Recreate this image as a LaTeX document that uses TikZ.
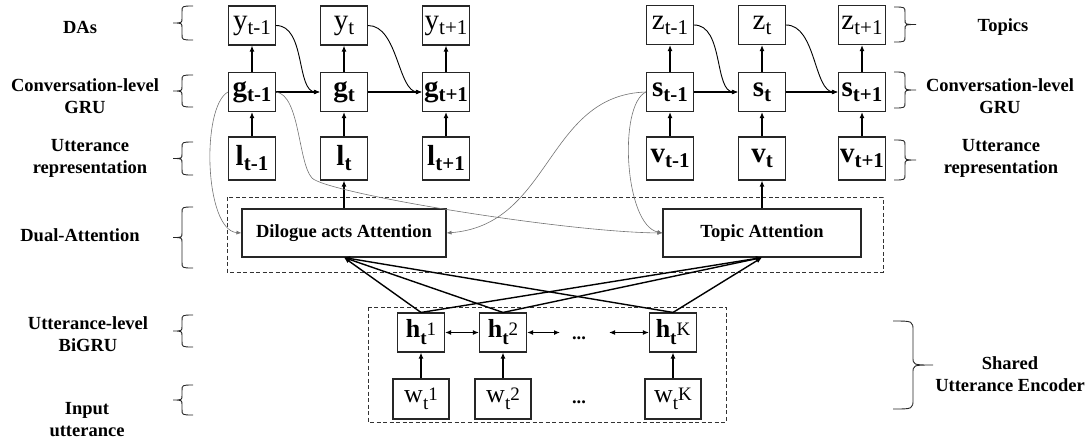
\documentclass[tikz,border=0pt]{standalone}
\usepackage{fontspec}
\setmainfont{Liberation Serif}
\usetikzlibrary{arrows.meta,positioning}
\newcommand{\sy}[2]{{\fontsize{29}{30}\selectfont #1}\raisebox{-5pt}{\fontsize{21}{22}\selectfont #2}}
\newcommand{\hw}[3]{{\fontsize{26}{27}\selectfont #1}\raisebox{-7pt}{\fontsize{19}{20}\selectfont #2}\raisebox{2pt}{\fontsize{19}{20}\selectfont\mdseries #3}}
\tikzset{
  cell/.style={draw=black!85, line width=1.1pt, minimum width=47pt, minimum height=39pt, inner sep=1pt},
  tallcell/.style={cell, minimum height=43pt},
  wide/.style={cell, minimum width=56pt, minimum height=40pt},
  attn/.style={draw=black!85, line width=1.1pt, minimum width=204pt, minimum height=48pt, font=\fontsize{18.5}{20}\selectfont\bfseries},
  tag/.style={align=center, font=\fontsize{18.5}{22}\selectfont\bfseries},
  group/.style={draw=black!80, dash pattern=on 4pt off 2.5pt, line width=0.9pt},
  link/.style={line width=1.4pt, -{Latex[length=6pt,width=5pt]}},
  twoway/.style={line width=1.4pt, {Latex[length=6pt,width=5pt]}-{Latex[length=6pt,width=5pt]}},
  feed/.style={line width=0.9pt, -{Latex[length=5pt,width=4pt]}},
  faint/.style={draw=black!55, line width=0.6pt, -{Latex[length=5pt,width=4pt]}},
  bracket/.style={draw=black!85, line width=0.9pt},
}
\begin{document}
\begin{tikzpicture}[x=1pt,y=-1pt]
\useasboundingbox (0,0) rectangle (1091,445);
\node[cell] (y1) at (252,25.5) {\sy{y}{t-1}};
\node[cell] (y2) at (344,25.5) {\sy{y}{t}};
\node[cell] (y3) at (446,25.5) {\sy{y}{t+1}};
\node[cell] (z1) at (670,25) {\sy{z}{t-1}};
\node[cell] (z2) at (762,25) {\sy{z}{t}};
\node[cell] (z3) at (862,25) {\sy{z}{t+1}};
\node[cell] (g1) at (252,92) {\textbf{\sy{g}{t-1}}};
\node[cell] (g2) at (344,92) {\textbf{\sy{g}{t}}};
\node[cell] (g3) at (446,92) {\textbf{\sy{g}{t+1}}};
\node[cell] (s1) at (670,92) {\textbf{\sy{s}{t-1}}};
\node[cell] (s2) at (762,92) {\textbf{\sy{s}{t}}};
\node[cell] (s3) at (862,92) {\textbf{\sy{s}{t+1}}};
\node[tallcell] (l1) at (252,158.5) {\textbf{\sy{l}{t-1}}};
\node[tallcell] (l2) at (344,158.5) {\textbf{\sy{l}{t}}};
\node[tallcell] (l3) at (446,158.5) {\textbf{\sy{l}{t+1}}};
\node[tallcell] (v1) at (670,158.5) {\textbf{\sy{v}{t-1}}};
\node[tallcell] (v2) at (762,158.5) {\textbf{\sy{v}{t}}};
\node[tallcell] (v3) at (862,158.5) {\textbf{\sy{v}{t+1}}};
\node[attn] (da) at (344,233) {Dilogue acts Attention};
\node[attn, minimum width=198pt] (ta) at (762,233) {Topic Attention};
\draw[group] (227,197) rectangle (883,272);
\node[cell] (h1) at (421,332.5) {\textbf{\hw{h}{t}{1}}};
\node[cell] (h2) at (503,332.5) {\textbf{\hw{h}{t}{2}}};
\node[cell] (hK) at (673,332.5) {\textbf{\hw{h}{t}{K}}};
\node[wide] (w1) at (421,399) {\hw{w}{t}{1}};
\node[wide] (w2) at (503,399) {\hw{w}{t}{2}};
\node[wide] (wK) at (673,399) {\hw{w}{t}{K}};
\node[tag] (hdots) at (579,338) {...};
\node[tag] (wdots) at (579,402) {...};
\coordinate (hgapL) at (560,332.5);
\coordinate (hgapR) at (609,332.5);
\draw[group] (368,307) rectangle (726,422);
\foreach \lo/\hi in {g1/y1,g2/y2,g3/y3,s1/z1,s2/z2,s3/z3,l1/g1,l2/g2,l3/g3,v1/s1,v2/s2,v3/s3,da/l2,ta/v2,w1/h1,w2/h2,wK/hK,g1/g2,g2/g3,s1/s2,s2/s3}
  \draw[link] (\lo) -- (\hi);
\foreach \a/\b in {y1/g2,y2/g3,z1/s2,z2/s3}
  \draw[feed] (\a.east) .. controls +(30,0) and +(-24,0) .. (\b.west);
\foreach \h in {h1,h2,hK} {
  \draw[link] (\h.north) -- (da.south);
  \draw[link] (\h.north) -- (ta.south);
}
\draw[twoway] (h1) -- (h2);
\draw[twoway] (h2) -- (hgapL);
\draw[twoway] (hgapR) -- (hK);
\coordinate (bend) at (312,178);
\draw[faint] (g1.west) .. controls +(-27,15) and +(-37,-3) .. (da.west);
\draw[faint] (g1.east) .. controls +(24,3) and +(-14,-15) .. (bend) .. controls +(14,15) and +(-100,-1) .. (ta.west);
\draw[faint] (s1.west) .. controls +(-100,3) and +(105,-8) .. (da.east);
\draw[faint] (s1.west) .. controls +(-28,13) and +(-38,-8) .. (ta.west);
\foreach \ya/\yb in {6/40,75/107,142/175,207/268,315/347,385/415} {
  \pgfmathsetmacro\ym{(\ya+\yb)/2}
  \draw[bracket] (193,\ya) .. controls (182,\ya) .. (182,\ya+6) -- (182,\ym-5) .. controls (182,\ym) .. (173,\ym) .. controls (182,\ym) .. (182,\ym+5) -- (182,\yb-6) .. controls (182,\yb) .. (193,\yb);
}
\foreach \ya/\yb in {7/42,72/108,140/180} {
  \pgfmathsetmacro\ym{(\ya+\yb)/2}
  \draw[bracket] (894,\ya) .. controls (905,\ya) .. (905,\ya+6) -- (905,\ym-5) .. controls (905,\ym) .. (916,\ym) .. controls (905,\ym) .. (905,\ym+5) -- (905,\yb-6) .. controls (905,\yb) .. (894,\yb);
}
\draw[bracket] (893,321) .. controls (913,321) .. (913,331) -- (913,357) .. controls (913,365) .. (933,365) .. controls (913,365) .. (913,373) -- (913,399) .. controls (913,409) .. (893,409);
\node[tag] (lda) at (80,27) {DAs};
\node[tag] (lgru) at (85,96) {Conversation-level\\GRU};
\node[tag] (lrep) at (90,158) {Utterance\\representation};
\node[tag] (ldual) at (80,235) {Dual-Attention};
\node[tag] (lbigru) at (88,334) {Utterance-level\\BiGRU};
\node[tag] (linput) at (87,420) {Input\\utterance};
\node[tag] (rtop) at (1003,27) {Topics};
\node[tag] (rgru) at (1000,96) {Conversation-level\\GRU};
\node[tag] (rrep) at (1001,158) {Utterance\\representation};
\node[tag] (rshared) at (1010,374) {Shared\\Utterance Encoder};
\end{tikzpicture}
\end{document}
